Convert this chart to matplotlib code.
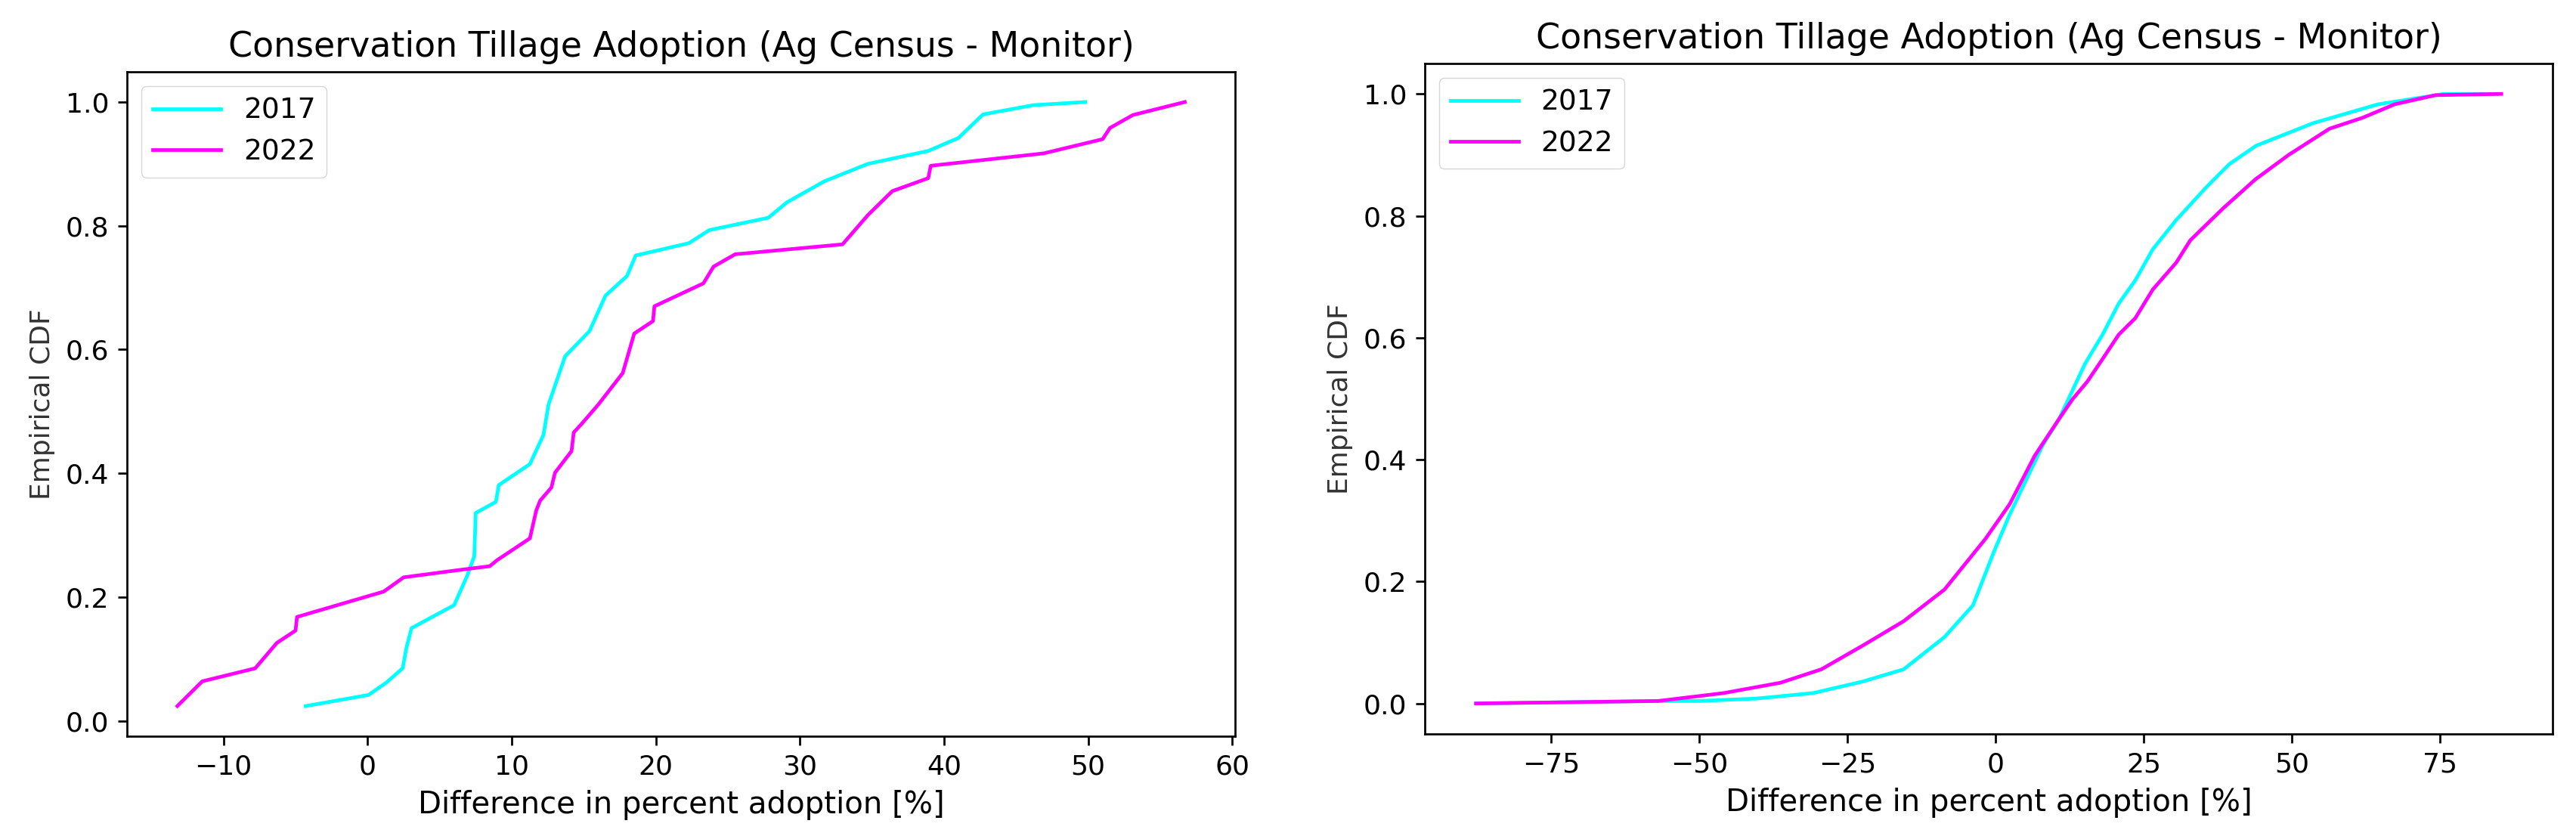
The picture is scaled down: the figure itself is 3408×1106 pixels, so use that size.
import matplotlib
matplotlib.use("Agg")
import matplotlib.pyplot as plt

# ---- data ----
series_labels = ["2017", "2022"]
series_colors = ["cyan", "magenta"]

# Left panel: county-level empirical CDF
left_2017_x = [-4.3, 0.07, 1.3, 2.43, 2.7, 3.05, 6.0, 6.9, 7.4, 7.5, 8.9, 9.1,
               11.26, 12.2, 12.55, 13.7, 15.4, 16.5, 18.0, 18.6, 22.3, 23.7,
               27.8, 29.1, 31.7, 34.7, 38.9, 41.0, 42.7, 46.2, 49.8]
left_2017_y = [0.024, 0.042, 0.062, 0.085, 0.119, 0.15, 0.187, 0.234, 0.266,
               0.336, 0.354, 0.381, 0.415, 0.462, 0.511, 0.589, 0.630, 0.687,
               0.719, 0.752, 0.772, 0.793, 0.813, 0.838, 0.872, 0.900, 0.921,
               0.942, 0.98, 0.995, 1.0]
left_2022_x = [-13.2, -11.47, -7.8, -6.3, -5.0, -4.9, 1.12, 2.5, 6.4, 8.47, 9.0,
               11.26, 11.7, 11.97, 12.75, 13.0, 14.15, 14.3, 14.85, 16.0, 17.7,
               18.5, 19.8, 19.9, 23.3, 24.0, 25.5, 32.95, 34.7, 36.4, 38.9,
               39.07, 46.9, 51.0, 51.5, 53.1, 56.7]
left_2022_y = [0.024, 0.064, 0.085, 0.126, 0.146, 0.168, 0.209, 0.232, 0.244,
               0.25, 0.26, 0.295, 0.34, 0.356, 0.377, 0.401, 0.436, 0.466, 0.48,
               0.511, 0.562, 0.626, 0.646, 0.670, 0.707, 0.734, 0.754, 0.770,
               0.817, 0.856, 0.877, 0.897, 0.917, 0.94, 0.958, 0.979, 1.0]

# Right panel: empirical CDF with many samples
right_2017_x = [-87.7, -57.0, -50.1, -40.4, -30.8, -22.4, -15.5, -8.6, -3.8,
                -0.3, 2.4, 5.2, 8.0, 10.75, 12.3, 15.1, 18.07, 20.8, 23.6,
                26.55, 30.5, 35.6, 39.5, 44.0, 53.6, 64.6, 75.7, 84.7]
right_2017_y = [0.0, 0.004, 0.004, 0.008, 0.017, 0.036, 0.056, 0.109, 0.161,
                0.248, 0.31, 0.367, 0.424, 0.467, 0.499, 0.557, 0.605, 0.656,
                0.694, 0.745, 0.793, 0.847, 0.885, 0.915, 0.952, 0.983, 1.0,
                1.0]
right_2022_x = [-87.7, -57.0, -45.9, -36.3, -29.4, -22.4, -15.5, -8.6, -1.7,
                2.4, 6.6, 10.75, 13.0, 15.5, 18.07, 20.8, 23.6, 26.55, 30.5,
                32.9, 38.4, 43.9, 49.5, 56.4, 62.0, 67.4, 74.3, 85.4]
right_2022_y = [0.0, 0.004, 0.017, 0.034, 0.056, 0.095, 0.135, 0.187, 0.270,
                0.327, 0.406, 0.467, 0.499, 0.528, 0.565, 0.605, 0.632, 0.679,
                0.723, 0.760, 0.812, 0.860, 0.900, 0.943, 0.961, 0.983, 0.998,
                1.0]

title_text = "Conservation Tillage Adoption (Ag Census - Monitor)"
xlabel_text = "Difference in percent adoption [%]"
ylabel_text = "Empirical CDF"

# ---- styling ----
S = 2.45
plt.rcParams.update({
    "font.family": ["DejaVu Sans"],
    "font.size": 26,
    "axes.linewidth": 0.8 * S,
    "xtick.major.size": 3.5 * S,
    "ytick.major.size": 3.5 * S,
    "xtick.major.width": 0.8 * S,
    "ytick.major.width": 0.8 * S,
    "xtick.major.pad": 3.5 * S,
    "ytick.major.pad": 3.5 * S,
    "xtick.labelsize": 26,
    "ytick.labelsize": 26,
    "axes.labelpad": 4 * S,
})

fig = plt.figure(figsize=(34.08, 11.06), dpi=100)
ax1 = fig.add_axes([0.0493, 0.1193, 0.4302, 0.7948])
ax2 = fig.add_axes([0.5531, 0.1221, 0.4378, 0.8020])

panels = [
    (ax1, [(left_2017_x, left_2017_y), (left_2022_x, left_2022_y)]),
    (ax2, [(right_2017_x, right_2017_y), (right_2022_x, right_2022_y)]),
]

for ax, data in panels:
    for (xs, ys), lab, col in zip(data, series_labels, series_colors):
        ax.plot(xs, ys, color=col, lw=1.4 * S, label=lab)
    ax.set_title(title_text, fontsize=33, pad=6 * S)
    ax.set_xlabel(xlabel_text, fontsize=29)
    ax.set_ylabel(ylabel_text, fontsize=26, color="#333333")
    ax.legend(loc="upper left", fontsize=27, handlelength=2.4)

ax1.set_xticks([-10, 0, 10, 20, 30, 40, 50, 60])
ax2.set_xticks([-75, -50, -25, 0, 25, 50, 75])
for ax in (ax1, ax2):
    ax.set_yticks([0.0, 0.2, 0.4, 0.6, 0.8, 1.0])

fig.savefig("out.png", dpi=100)
